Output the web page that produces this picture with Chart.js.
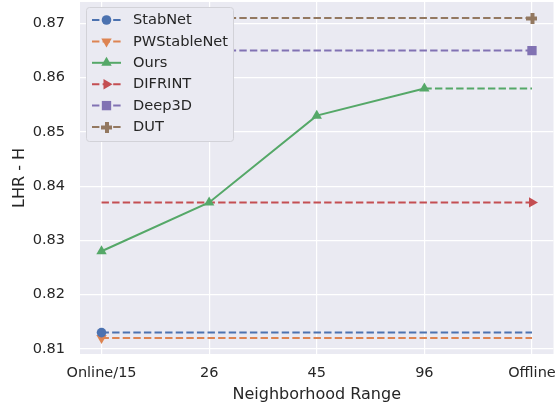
<!DOCTYPE html>
<html><head><meta charset="utf-8">
<script src="https://cdn.jsdelivr.net/npm/chart.js@4"></script>
<style>html,body{margin:0;padding:0;background:#fff}#wrap{width:559px;height:407px;position:relative}</style>
</head><body><div id="wrap"><canvas id="c" width="559" height="407"></canvas></div>
<script>
const categories = ['Online/15', '26', '45', '96', 'Offline'];
const yTicks = [0.81, 0.82, 0.83, 0.84, 0.85, 0.86, 0.87];
const stabnet = [0.813, 0.813, 0.813, 0.813, 0.813];
const pwstablenet = [0.812, 0.812, 0.812, 0.812, 0.812];
const ours = [0.828, 0.837, 0.853, 0.858, 0.858];
const difrint = [0.837, 0.837, 0.837, 0.837, 0.837];
const deep3d = [0.865, 0.865, 0.865, 0.865, 0.865];
const dut = [0.871, 0.871, 0.871, 0.871, 0.871];

const C = {blue:'#4C72B0', orange:'#DD8452', green:'#55A868', red:'#C44E52', purple:'#8172B3', brown:'#937860'};
const FONT = "'DejaVu Sans', sans-serif";
const TXT = '#262626';
const DASH = [7.4, 3.2];

function plusCanvas(color, s) {
  const c = document.createElement('canvas'); c.width = s; c.height = s;
  const g = c.getContext('2d'); g.fillStyle = color;
  const t = Math.round(s * 0.36), o = Math.round((s - t) / 2);
  g.fillRect(o, 0, t, s); g.fillRect(0, o, s, t);
  return c;
}
const plusImg = plusCanvas(C.brown, 11);

function pts(arr) { return arr.map((v, i) => ({x: i, y: v})); }

const series = [
  {label:'StabNet', data:stabnet, color:C.blue, style:'circle', rot:0, r:[4.8,0,0,0,0], lr:4.8},
  {label:'PWStableNet', data:pwstablenet, color:C.orange, style:'triangle', rot:180, r:[6,0,0,0,0], lr:6},
  {label:'Ours', data:ours, color:C.green, style:'triangle', rot:0, r:[6,6,6,6,0], lr:6, solid:true},
  {label:'DIFRINT', data:difrint, color:C.red, style:'triangle', rot:90, r:[0,0,0,0,6], lr:6},
  {label:'Deep3D', data:deep3d, color:C.purple, style:'rect', rot:0, r:[0,0,0,0,6.6], lr:6.6},
  {label:'DUT', data:dut, color:C.brown, style:plusImg, rot:0, r:[0,0,0,0,6], lr:6}
];

const datasets = series.map(s => ({
  label: s.label,
  data: pts(s.data),
  borderColor: s.color,
  backgroundColor: s.color,
  borderWidth: 2,
  borderDash: s.solid ? [] : DASH,
  segment: s.solid ? {borderDash: ctx => ctx.p0DataIndex === 3 ? DASH : undefined} : undefined,
  pointStyle: s.style,
  rotation: s.rot,
  pointRotation: s.rot,
  pointRadius: s.r,
  pointBorderWidth: 0,
  pointBackgroundColor: s.color,
  pointBorderColor: s.color,
  tension: 0,
  fill: false
}));

const bgPlugin = {
  id: 'bg',
  beforeDraw(chart) {
    const {ctx, chartArea: a} = chart;
    ctx.save(); ctx.fillStyle = '#EAEAF2';
    ctx.fillRect(a.left, a.top, a.right - a.left, a.bottom - a.top);
    ctx.restore();
  }
};

function drawMarker(ctx, style, rot, r, x, y, color) {
  ctx.save(); ctx.fillStyle = color; ctx.translate(x, y); ctx.rotate(rot * Math.PI / 180);
  if (style === 'circle') { ctx.beginPath(); ctx.arc(0, 0, r, 0, Math.PI * 2); ctx.fill(); }
  else if (style === 'triangle') {
    ctx.beginPath();
    for (let k = 0; k < 3; k++) { const a = k * 2 * Math.PI / 3; const px = Math.sin(a) * r, py = -Math.cos(a) * r; k ? ctx.lineTo(px, py) : ctx.moveTo(px, py); }
    ctx.closePath(); ctx.fill();
  } else if (style === 'rect') { const s = r * Math.SQRT1_2; ctx.fillRect(-s, -s, 2 * s, 2 * s); }
  else { ctx.drawImage(style, -style.width / 2, -style.height / 2); }
  ctx.restore();
}

const legendPlugin = {
  id: 'customLegend',
  afterDatasetsDraw(chart) {
    const ctx = chart.ctx;
    ctx.save();
    const bx = 86.5, by = 7.5, bw = 147, bh = 134, rr = 3;
    ctx.beginPath();
    ctx.moveTo(bx + rr, by); ctx.lineTo(bx + bw - rr, by); ctx.quadraticCurveTo(bx + bw, by, bx + bw, by + rr);
    ctx.lineTo(bx + bw, by + bh - rr); ctx.quadraticCurveTo(bx + bw, by + bh, bx + bw - rr, by + bh);
    ctx.lineTo(bx + rr, by + bh); ctx.quadraticCurveTo(bx, by + bh, bx, by + bh - rr);
    ctx.lineTo(bx, by + rr); ctx.quadraticCurveTo(bx, by, bx + rr, by); ctx.closePath();
    ctx.fillStyle = '#EAEAF2'; ctx.fill();
    ctx.strokeStyle = '#D2D2D8'; ctx.lineWidth = 1; ctx.stroke();
    series.forEach((s, i) => {
      const y = 20 + i * 21.4;
      ctx.beginPath(); ctx.strokeStyle = s.color; ctx.lineWidth = 2;
      ctx.setLineDash(s.solid ? [] : DASH);
      ctx.moveTo(92, y); ctx.lineTo(121, y); ctx.stroke();
      ctx.setLineDash([]);
      drawMarker(ctx, s.style, s.rot, s.lr, 106.5, y, s.color);
      ctx.fillStyle = TXT; ctx.font = '14.6px ' + FONT; ctx.textBaseline = 'middle'; ctx.textAlign = 'left';
      ctx.fillText(s.label, 133, y + 0.5);
    });
    ctx.restore();
  }
};

function zeroPad(ax) { ax.paddingTop = 0; ax.paddingBottom = 0; ax.paddingLeft = 0; ax.paddingRight = 0; }

new Chart(document.getElementById('c'), {
  type: 'line',
  data: {datasets},
  options: {
    responsive: false,
    animation: false,
    devicePixelRatio: 1,
    layout: {autoPadding: false, padding: {left: 0, right: 5.5, top: 2, bottom: 0}},
    plugins: {legend: {display: false}, tooltip: {enabled: false}},
    scales: {
      x: {
        type: 'linear', min: -0.2, max: 4.2,
        afterBuildTicks: ax => { ax.ticks = categories.map((c, i) => ({value: i})); },
        afterFit: ax => { ax.height = 53; zeroPad(ax); },
        ticks: {callback: v => categories[v], color: TXT, font: {family: FONT, size: 14.5}, padding: 11, maxRotation: 0, autoSkip: false},
        grid: {color: '#FFFFFF', lineWidth: 1.2, drawTicks: false},
        border: {display: false},
        title: {display: true, text: 'Neighborhood Range', color: TXT, font: {family: FONT, size: 16}, padding: {top: 0, bottom: 3}}
      },
      y: {
        type: 'linear', min: 0.80905, max: 0.87395,
        afterBuildTicks: ax => { ax.ticks = yTicks.map(v => ({value: v})); },
        afterFit: ax => { ax.width = 80; zeroPad(ax); },
        ticks: {callback: v => v.toFixed(2), color: TXT, font: {family: FONT, size: 14.5}, padding: 15},
        grid: {color: '#FFFFFF', lineWidth: 1.2, drawTicks: false},
        border: {display: false},
        title: {display: true, text: 'LHR - H', color: TXT, font: {family: FONT, size: 16}, padding: {top: 10.5, bottom: 0}}
      }
    }
  },
  plugins: [bgPlugin, legendPlugin]
});
</script></body></html>
